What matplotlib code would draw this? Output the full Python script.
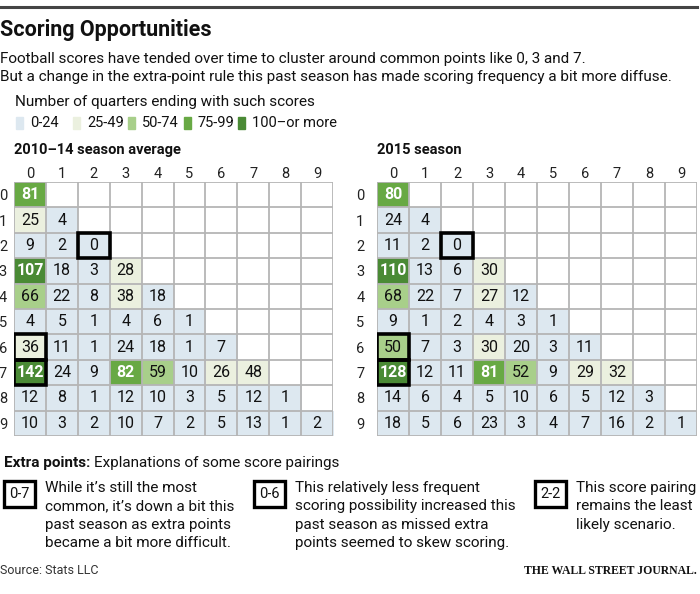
import numpy as np
import matplotlib
matplotlib.use("Agg")
import matplotlib.pyplot as plt
from matplotlib.colors import ListedColormap, BoundaryNorm
from matplotlib.patches import Rectangle

# number of quarters ending with each score pairing (row = one team, col = other)
avg_2010_14 = [
    [81],
    [25, 4],
    [9, 2, 0],
    [107, 18, 3, 28],
    [66, 22, 8, 38, 18],
    [4, 5, 1, 4, 6, 1],
    [36, 11, 1, 24, 18, 1, 7],
    [142, 24, 9, 82, 59, 10, 26, 48],
    [12, 8, 1, 12, 10, 3, 5, 12, 1],
    [10, 3, 2, 10, 7, 2, 5, 13, 1, 2],
]
season_2015 = [
    [80],
    [24, 4],
    [11, 2, 0],
    [110, 13, 6, 30],
    [68, 22, 7, 27, 12],
    [9, 1, 2, 4, 3, 1],
    [50, 7, 3, 30, 20, 3, 11],
    [128, 12, 11, 81, 52, 9, 29, 32],
    [14, 6, 4, 5, 10, 6, 5, 12, 3],
    [18, 5, 6, 23, 3, 4, 7, 16, 2, 1],
]
digits = [str(i) for i in range(10)]
highlights = [(2, 2), (6, 0), (7, 0)]

bins = [0, 25, 50, 75, 100, 1000]
bin_labels = ["0-24", "25-49", "50-74", "75-99", "100\u2013or more"]
colors = ["#dde8f0", "#ebf0df", "#a8cf8a", "#68a944", "#4a8a35"]

notes = [
    ("0-7", "While it\u2019s still the most\ncommon, it\u2019s down a bit this\npast season as extra points\nbecame a bit more difficult."),
    ("0-6", "This relatively less frequent\nscoring possibility increased this\npast season as missed extra\npoints seemed to skew scoring."),
    ("2-2", "This score pairing\nremains the least\nlikely scenario."),
]

plt.rcParams["font.family"] = ["Roboto", "DejaVu Sans"]

W, H = 700, 594
fig = plt.figure(figsize=(W / 100, H / 100), dpi=100)


def fx(x):
    return x / W


def fy(y):
    return 1 - y / H


def txt(x, y, s, **kw):
    kw.setdefault("va", "center")
    kw.setdefault("ha", "left")
    kw.setdefault("color", "#111111")
    return fig.text(fx(x), fy(y), s, **kw)


# top rule
fig.add_artist(plt.Line2D([fx(0), fx(697)], [fy(7), fy(7)], color="#444444", lw=2.2))

txt(0, 30, "Scoring Opportunities", fontsize=15.5, fontweight="bold")
txt(0, 59, "Football scores have tended over time to cluster around common points like 0, 3 and 7.", fontsize=11)
txt(0, 77, "But a change in the extra-point rule this past season has made scoring frequency a bit more diffuse.", fontsize=11)
txt(15, 102, "Number of quarters ending with such scores", fontsize=11)

# legend swatches
leg_x = [16, 73, 128, 184, 238]
for lx, lab, c in zip(leg_x, bin_labels, colors):
    fig.add_artist(Rectangle((fx(lx), fy(129)), 7 / W, 12 / H, color=c, transform=fig.transFigure))
    txt(lx + 14, 123, lab, fontsize=10.5)

cmap = ListedColormap(colors)
cmap.set_bad("white")
norm = BoundaryNorm(bins, cmap.N)


def draw_grid(box, data, title, label_pad):
    x0, y0, x1, y1 = box
    ax = fig.add_axes([fx(x0), fy(y1), (x1 - x0) / W, (y1 - y0) / H])
    n = len(data)
    m = np.full((n, n), np.nan)
    for i, row in enumerate(data):
        m[i, :len(row)] = row
    ax.imshow(np.ma.masked_invalid(m), cmap=cmap, norm=norm, aspect="auto",
              interpolation="nearest", extent=(-0.5, n - 0.5, n - 0.5, -0.5))
    for i, row in enumerate(data):
        for j, v in enumerate(row):
            ax.text(j, i, str(v), ha="center", va="center", fontsize=11.5,
                    color="white" if v >= 75 else "#111111",
                    fontweight="bold" if v >= 75 else "normal")
    edges = np.arange(n + 1) - 0.5
    ax.vlines(edges, -0.5, n - 0.5, color="#b5b5b5", lw=1.3)
    ax.hlines(edges, -0.5, n - 0.5, color="#b5b5b5", lw=1.3)
    for r, c in highlights:
        ax.add_patch(Rectangle((c - 0.5, r - 0.5), 1, 1, fill=False, ec="black", lw=2.6, zorder=5))
    ax.set_xlim(-0.5, n - 0.5)
    ax.set_ylim(n - 0.5, -0.5)
    ax.xaxis.tick_top()
    ax.set_xticks(range(n), digits)
    ax.set_yticks(range(n), digits)
    ax.tick_params(length=0, labelsize=10.5, labelcolor="#222222")
    ax.tick_params(axis="x", pad=1)
    ax.tick_params(axis="y", pad=label_pad)
    for s in ax.spines.values():
        s.set_visible(False)
    txt(x0, 150, title, fontsize=10.5, fontweight="bold")
    return ax


draw_grid((14, 182, 333, 436), avg_2010_14, "2010\u201314 season average", 5)
draw_grid((377, 182, 697, 436), season_2015, "2015 season", 9)

# extra-point notes
t = txt(4, 463, "Extra points:", fontsize=11, fontweight="bold")
fig.canvas.draw()
bb = t.get_window_extent()
txt(bb.x1 + 4, 463, "Explanations of some score pairings", fontsize=11)

note_x = [4, 254, 535]
for nx, (tag, body) in zip(note_x, notes):
    txt(nx + 15.5, 494, tag, fontsize=10.5, ha="center",
        bbox=dict(boxstyle="square,pad=0.38", fc="white", ec="black", lw=2.4))
    txt(nx + 41, 481, body, fontsize=11, va="top", linespacing=1.4)

txt(0, 571, "Source: Stats LLC", fontsize=9, color="#333333")
txt(697, 571, "THE WALL STREET JOURNAL.", fontsize=8.5, ha="right",
    family=["Liberation Serif", "DejaVu Serif"], fontweight="bold")

fig.savefig("out.png", dpi=100)
